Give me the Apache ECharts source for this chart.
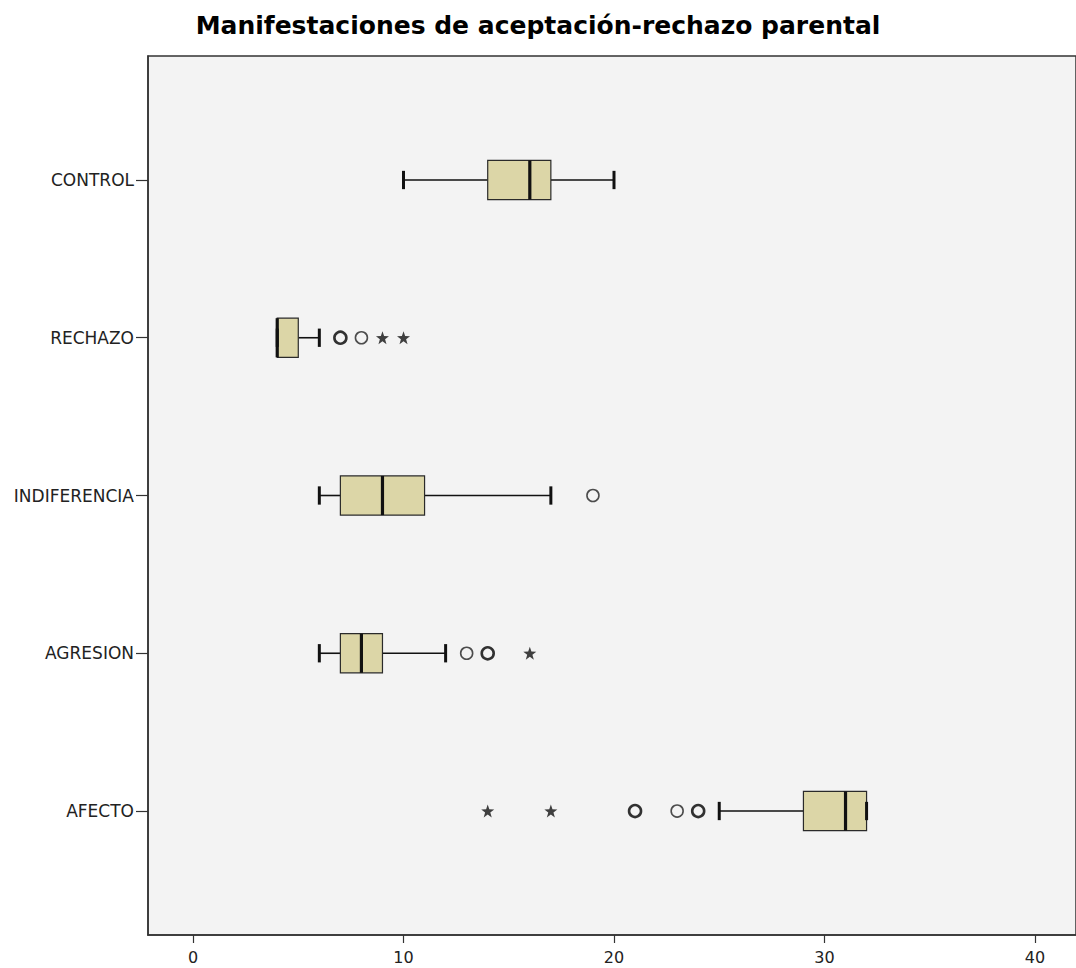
<!DOCTYPE html>
<html>
<head>
<meta charset="utf-8">
<script src="https://cdn.jsdelivr.net/npm/echarts@6/dist/echarts.min.js"></script>
<style>html,body{margin:0;padding:0;background:#fff}#c{width:1076px;height:968px}</style>
</head>
<body>
<div id="c"></div>
<script>
const titleText = 'Manifestaciones de aceptación-rechazo parental';
const categories = ['CONTROL', 'RECHAZO', 'INDIFERENCIA', 'AGRESION', 'AFECTO'];
const whiskerLow  = [10, 4, 6, 6, 25];
const q1          = [14, 4, 7, 7, 29];
const median      = [16, 4, 9, 8, 31];
const q3          = [17, 5, 11, 9, 32];
const whiskerHigh = [20, 6, 17, 12, 32];
// outliers: [value, category index]
const outliersSingle   = [[8, 1], [19, 2], [13, 3], [23, 4]];
const outliersRepeated = [[7, 1], [14, 3], [21, 4], [24, 4]];
const extremes         = [[9, 1], [10, 1], [16, 3], [14, 4], [17, 4]];
const xTicks = [0, 10, 20, 30, 40];
const yTicks = [0, 1, 2, 3, 4];

const FONT = 'DejaVu Sans';
const boxData = categories.map((c, i) => [i, whiskerLow[i], q1[i], median[i], q3[i], whiskerHigh[i]]);
const STAR = 'path://M0,-10L2.35,-3.24L9.51,-3.09L3.8,1.24L5.88,8.09L0,4L-5.88,8.09L-3.8,1.24L-9.51,-3.09L-2.35,-3.24Z';

const chart = echarts.init(document.getElementById('c'), null, {renderer: 'svg'});
chart.setOption({
  animation: false,
  backgroundColor: '#ffffff',
  title: {
    text: titleText, left: 'center', top: 8,
    textStyle: {fontFamily: FONT, fontSize: 25, fontWeight: 'bold', color: '#000'}
  },
  grid: {
    left: 148, top: 56, right: -4, bottom: 33,
    show: true, backgroundColor: '#f3f3f3', borderColor: '#333', borderWidth: 1.5
  },
  xAxis: {
    type: 'value', min: -2.14, max: 41.95,
    splitLine: {show: false},
    axisLine: {show: true, onZero: false, lineStyle: {color: '#333', width: 1.5}},
    axisTick: {show: true, length: 8, customValues: xTicks, lineStyle: {color: '#333', width: 1.2}},
    axisLabel: {customValues: xTicks, margin: 14, fontFamily: FONT, fontSize: 16, color: '#222'}
  },
  yAxis: {
    type: 'value', inverse: true, min: -0.786, max: 4.786,
    splitLine: {show: false},
    axisLine: {show: true, onZero: false, lineStyle: {color: '#333', width: 1.5}},
    axisTick: {show: true, length: 12, customValues: yTicks, lineStyle: {color: '#333', width: 1.2}},
    axisLabel: {customValues: yTicks, margin: 14, fontFamily: FONT, fontSize: 17, color: '#222',
      formatter: v => categories[Math.round(v)] || ''}
  },
  series: [
    {
      type: 'custom',
      data: boxData,
      encode: {x: [1, 2, 3, 4, 5], y: 0},
      renderItem: function (params, api) {
        const y = api.value(0);
        const unit = api.size([0, 1])[1];
        const bh = unit * 0.124, ch = unit * 0.058;
        const pLow = api.coord([api.value(1), y]);
        const pQ1 = api.coord([api.value(2), y]);
        const pMed = api.coord([api.value(3), y]);
        const pQ3 = api.coord([api.value(4), y]);
        const pHigh = api.coord([api.value(5), y]);
        const cy = pQ1[1];
        const line = (x1, y1, x2, y2, w) => ({type: 'line', shape: {x1, y1, x2, y2},
          style: {stroke: '#111', lineWidth: w}});
        return {
          type: 'group',
          children: [
            line(pLow[0], cy, pQ1[0], cy, 1.6),
            line(pQ3[0], cy, pHigh[0], cy, 1.6),
            {type: 'rect', shape: {x: pQ1[0], y: cy - bh, width: pQ3[0] - pQ1[0], height: 2 * bh},
              style: {fill: '#dcd6a7', stroke: '#2a2a2a', lineWidth: 1.2}},
            line(pMed[0], cy - bh, pMed[0], cy + bh, 3.2),
            line(pLow[0], cy - ch, pLow[0], cy + ch, 3),
            line(pHigh[0], cy - ch, pHigh[0], cy + ch, 3)
          ]
        };
      }
    },
    {
      type: 'scatter', data: outliersSingle, symbol: 'circle', symbolSize: 12,
      itemStyle: {color: '#f3f3f3', borderColor: '#222', borderWidth: 1.6}
    },
    {
      type: 'scatter', data: outliersRepeated, symbol: 'circle', symbolSize: 12,
      itemStyle: {color: '#f3f3f3', borderColor: '#000', borderWidth: 2.6}
    },
    {
      type: 'scatter', data: extremes, symbol: STAR, symbolSize: 13,
      itemStyle: {color: '#111'}
    }
  ]
});
</script>
</body>
</html>
